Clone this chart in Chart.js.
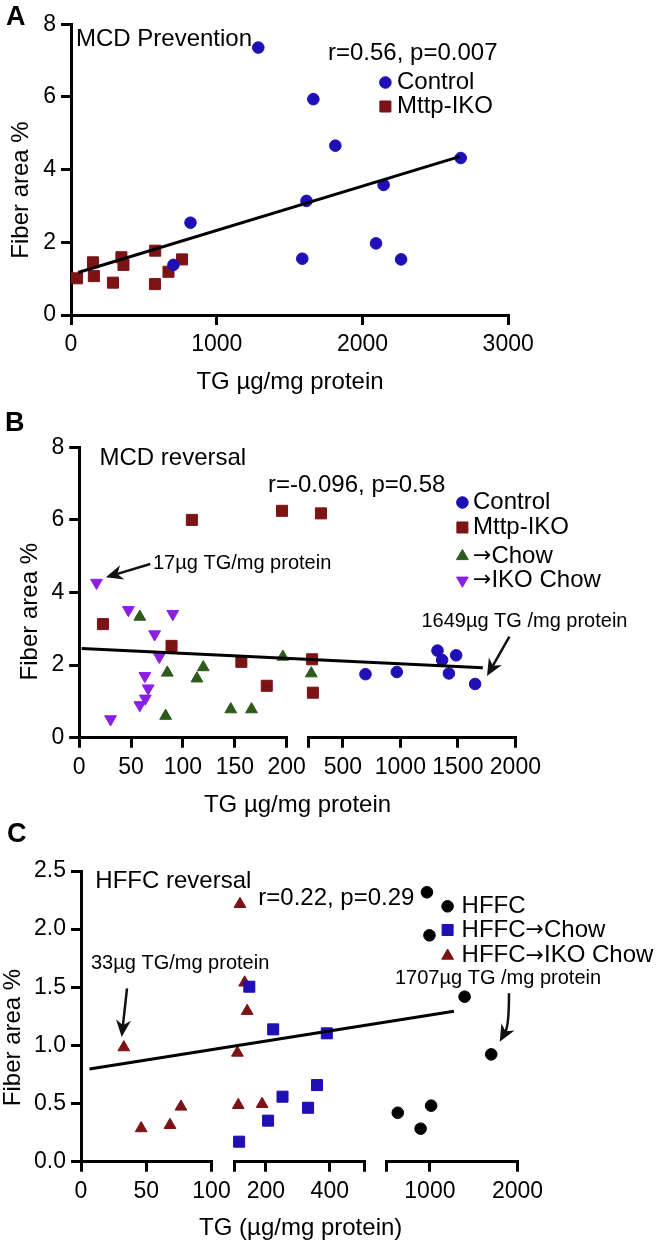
<!DOCTYPE html>
<html>
<head>
<meta charset="utf-8">
<script src="https://cdn.jsdelivr.net/npm/chart.js@4.4.1/dist/chart.umd.min.js"></script>
<style>
  html, body { margin: 0; padding: 0; background: #fff; }
  .panel { position: absolute; left: 0; width: 664px; }
  canvas { display: block; }
</style>
</head>
<body>
<div class="panel" style="top:0;height:395px"><canvas id="chartA" width="664" height="395"></canvas></div>
<div class="panel" style="top:395px;height:425px"><canvas id="chartB" width="664" height="425"></canvas></div>
<div class="panel" style="top:820px;height:426px"><canvas id="chartC" width="664" height="426"></canvas></div>
<script>
// ---------- Panel A: MCD prevention ----------
const aControlTG  = [1285, 1663, 1814, 2674, 2145, 1616, 820, 2093, 1587, 2265, 703];
const aControlFib = [7.36, 5.94, 4.66, 4.32, 3.58, 3.14, 2.54, 1.97, 1.55, 1.53, 1.38];
const aIkoTG      = [41, 151, 157, 288, 346, 360, 578, 576, 669, 762];
const aIkoFib     = [1.01, 1.45, 1.07, 0.89, 1.59, 1.38, 1.77, 0.85, 1.19, 1.53];
const aTrendTG    = [49, 2666];
const aTrendFib   = [1.17, 4.36];
const aXTicks     = [0, 1000, 2000, 3000];
const aXLabels    = ['0', '1000', '2000', '3000'];
const aYTicks     = [0, 2, 4, 6, 8];
const aYLabels    = ['0', '2', '4', '6', '8'];

// ---------- Panel B: MCD reversal ----------
const bControlTG  = [697, 969, 1323, 1363, 1485, 1422, 1650];
const bControlFib = [1.75, 1.81, 2.40, 2.14, 2.27, 1.77, 1.48];
const bIkoTG      = [108.6, 195.5, 22.9, 89, 156.3, 180.8, 310, 233, 240];
const bIkoFib     = [6.0, 6.25, 3.13, 2.53, 2.09, 1.43, 6.18, 2.16, 1.24];
const bChowTG     = [58.4, 84.9, 83.3, 113.5, 119.6, 146.1, 166.1, 196.3, 226];
const bChowFib    = [3.33, 1.79, 0.60, 1.63, 1.94, 0.78, 0.78, 2.23, 1.77];
const bIkoChowTG  = [16.7, 47.4, 90.2, 72.7, 77.2, 63.3, 66.5, 63.7, 58.4, 30.2];
const bIkoChowFib = [4.27, 3.52, 3.41, 2.85, 2.23, 1.70, 1.36, 1.08, 0.90, 0.51];
const bTrendTG    = [2.4, 1717];
const bTrendFib   = [2.46, 1.93];
const bSeg1Ticks  = [0, 50, 100, 150, 200];
const bSeg1Labels = ['0', '50', '100', '150', '200'];
const bSeg2Ticks  = [200, 500, 1000, 1500, 2000];
const bSeg2Labels = ['', '500', '1000', '1500', '2000'];
const bYTicks     = [0, 2, 4, 6, 8];
const bYLabels    = ['0', '2', '4', '6', '8'];

// ---------- Panel C: HFFC reversal ----------
const cHffcTG      = [966, 995, 1396, 1700, 633, 894, 1014];
const cHffcFib     = [2.317, 1.947, 1.419, 0.923, 0.421, 0.284, 0.482];
const cChowTG      = [148, 222.7, 390.7, 360, 252, 332, 206.7, 116];
const cChowFib     = [1.505, 1.138, 1.104, 0.659, 0.559, 0.464, 0.353, 0.172];
const cIkoChowTG   = [32.8, 46.1, 68.2, 76.6, 118.7, 133.3, 141.3, 110.7, 113.3, 188];
const cIkoChowFib  = [0.983, 0.287, 0.315, 0.473, 2.216, 1.540, 1.296, 0.937, 0.487, 0.496];
const cTrendTG     = [6.5, 1275];
const cTrendFib    = [0.797, 1.293];
const cSeg1Ticks   = [0, 50, 100];
const cSeg1Labels  = ['0', '50', '100'];
const cSeg2Ticks   = [100, 200, 400, 510];
const cSeg2Labels  = ['', '200', '400', ''];
const cSeg3Ticks   = [500, 1000, 2000];
const cSeg3Labels  = ['', '1000', '2000'];
const cYTicks      = [0, 0.5, 1.0, 1.5, 2.0, 2.5];
const cYLabels     = ['0.0', '0.5', '1.0', '1.5', '2.0', '2.5'];

// ---------- styling ----------
const FONT = '"Liberation Sans", Arial, Helvetica, sans-serif';
const ARROW_FONT = '"DejaVu Sans", sans-serif';
const BLUE = '#1e0fb6', RED = '#7c1315', GREEN = '#2c5b1c', PURPLE = '#8c1fe6', BLACK = '#000000';
const AXIS_W = 3, TICK_LEN = 10;

function drawMarker(ctx, m, x, y) {
  ctx.save();
  ctx.fillStyle = m.color; ctx.strokeStyle = m.color; ctx.lineWidth = 1;
  ctx.beginPath();
  if (m.style === 'circle') {
    ctx.arc(x, y, m.radius, 0, Math.PI * 2);
  } else if (m.style === 'rect') {
    const s = m.radius * Math.SQRT1_2;
    ctx.rect(x - s, y - s, 2 * s, 2 * s);
  } else {
    let a = (m.rotation || 0) * Math.PI / 180;
    for (let k = 0; k < 3; k++) {
      const px = x + Math.sin(a) * m.radius, py = y - Math.cos(a) * m.radius;
      if (k) ctx.lineTo(px, py); else ctx.moveTo(px, py);
      a += 2 * Math.PI / 3;
    }
    ctx.closePath();
  }
  ctx.fill(); ctx.stroke();
  ctx.restore();
}

function drawArrow(ctx, pts) {
  const tip = pts[pts.length - 1], prev = pts[pts.length - 2];
  const ang = Math.atan2(tip[1] - prev[1], tip[0] - prev[0]);
  const L = 17, HW = 7.5;
  const c = Math.cos(ang), s = Math.sin(ang);
  const notch = [tip[0] - c * L * 0.7, tip[1] - s * L * 0.7];
  ctx.save();
  ctx.strokeStyle = '#111'; ctx.fillStyle = '#111'; ctx.lineWidth = 2.5;
  ctx.beginPath();
  ctx.moveTo(pts[0][0], pts[0][1]);
  if (pts.length === 3) ctx.quadraticCurveTo(pts[1][0], pts[1][1], notch[0], notch[1]);
  else ctx.lineTo(notch[0], notch[1]);
  ctx.stroke();
  ctx.beginPath();
  ctx.moveTo(tip[0], tip[1]);
  ctx.lineTo(tip[0] - c * L - s * HW, tip[1] - s * L + c * HW);
  ctx.lineTo(notch[0], notch[1]);
  ctx.lineTo(tip[0] - c * L + s * HW, tip[1] - s * L - c * HW);
  ctx.closePath();
  ctx.fill();
  ctx.restore();
}

function text(ctx, str, x, y, size, opt) {
  opt = opt || {};
  ctx.save();
  ctx.fillStyle = '#000';
  ctx.font = (opt.bold ? 'bold ' : '') + size + 'px ' + FONT;
  ctx.textBaseline = 'middle';
  ctx.textAlign = opt.align || 'left';
  ctx.translate(x, y);
  if (opt.rotate) ctx.rotate(opt.rotate);
  ctx.fillText(str, 0, 0);
  ctx.restore();
}

// legend label: the arrow sign comes from DejaVu, which draws it full width
function legendText(ctx, str, x, y, size) {
  ctx.save();
  ctx.fillStyle = '#000';
  ctx.textBaseline = 'middle';
  ctx.textAlign = 'left';
  const parts = str.split('\u2192');
  let cx = x;
  parts.forEach((part, i) => {
    if (i > 0) {
      ctx.font = Math.round(size * 0.92) + 'px ' + ARROW_FONT;
      ctx.fillText('\u2192', cx, y);
      cx += ctx.measureText('\u2192').width;
    }
    ctx.font = size + 'px ' + FONT;
    ctx.fillText(part, cx, y);
    cx += ctx.measureText(part).width;
  });
  ctx.restore();
}

function segOf(segs, v) {
  for (let i = 0; i < segs.length; i++) if (v >= segs[i].min && v <= segs[i].max) return i;
  return segs.length - 1;
}

function makePanel(id, p) {
  const H = document.getElementById(id).height;
  const scales = {
    y: {
      type: 'linear', min: 0, max: p.yTicks[p.yTicks.length - 1],
      afterBuildTicks: ax => { ax.ticks = p.yTicks.map(v => ({ value: v })); },
      afterFit: ax => { ax.width = p.area.left; },
      ticks: { callback: (v, i) => p.yLabels[i], font: { family: FONT, size: 23 }, color: '#000', padding: 5 },
      grid: { drawOnChartArea: false, tickLength: TICK_LEN, color: '#000', lineWidth: AXIS_W },
      border: { color: '#000', width: AXIS_W }
    }
  };
  p.segs.forEach((sg, i) => {
    scales['x' + i] = {
      type: 'linear', position: 'bottom', stack: 'tg', stackWeight: sg.width, weight: 2 * i,
      min: sg.min, max: sg.max,
      afterBuildTicks: ax => { ax.ticks = sg.ticks.map(v => ({ value: v })); },
      afterFit: ax => { ax.height = H - p.area.bottom; },
      ticks: { callback: (v, k) => sg.labels[k], font: { family: FONT, size: 23 }, color: '#000',
               padding: 6, autoSkip: false, maxRotation: 0, minRotation: 0 },
      grid: { drawOnChartArea: false, tickLength: TICK_LEN, color: '#000', lineWidth: AXIS_W },
      border: { color: '#000', width: AXIS_W }
    };
    if (i < p.segs.length - 1) {
      scales['gap' + i] = {
        type: 'linear', position: 'bottom', stack: 'tg', stackWeight: p.gaps[i], weight: 2 * i + 1,
        min: 0, max: 1,
        afterFit: ax => { ax.height = H - p.area.bottom; },
        ticks: { display: false }, grid: { display: false }, border: { display: false }
      };
    }
  });

  const datasets = [];
  p.series.forEach(s => {
    p.segs.forEach((sg, i) => {
      const pts = [];
      s.xs.forEach((x, k) => { if (segOf(p.segs, x) === i) pts.push({ x: x, y: s.ys[k] }); });
      if (!pts.length) return;
      datasets.push({
        label: s.label, data: pts, xAxisID: 'x' + i, yAxisID: 'y', clip: false,
        pointStyle: s.style, pointRadius: s.radius, pointRotation: s.rotation || 0,
        backgroundColor: s.color, borderColor: s.color, pointBorderWidth: 1
      });
    });
  });

  const o = p.overlay;
  const overlay = {
    id: 'overlay' + id,
    afterDatasetsDraw(chart) {
      const ctx = chart.ctx;
      // regression line through the segmented scales
      const px = p.trend.xs.map(x => chart.scales['x' + segOf(p.segs, x)].getPixelForValue(x));
      const py = p.trend.ys.map(y => chart.scales.y.getPixelForValue(y));
      ctx.save();
      ctx.strokeStyle = '#000'; ctx.lineWidth = 3;
      ctx.beginPath(); ctx.moveTo(px[0], py[0]); ctx.lineTo(px[1], py[1]); ctx.stroke();
      ctx.restore();
      // panel letter, titles, notes
      text(ctx, o.letter[0], o.letter[1], o.letter[2], 27, { bold: true });
      text(ctx, o.yTitle[0], o.yTitle[1], o.yTitle[2], 24, { align: 'center', rotate: -Math.PI / 2 });
      text(ctx, o.xTitle[0], o.xTitle[1], o.xTitle[2], 24, { align: 'center' });
      o.notes.forEach(n => text(ctx, n[0], n[1], n[2], n[3]));
      o.arrows.forEach(a => drawArrow(ctx, a));
      // legend
      p.series.forEach((s, k) => {
        const y = o.legend.rows[k];
        drawMarker(ctx, s, o.legend.markerX, y);
        legendText(ctx, s.label, o.legend.textX, y, 24);
      });
    }
  };

  return new Chart(document.getElementById(id), {
    type: 'scatter',
    data: { datasets: datasets },
    options: {
      responsive: false, animation: false, events: [],
      layout: { padding: { left: 0, top: p.area.top, right: 664 - p.area.right, bottom: 0 } },
      scales: scales,
      plugins: { legend: { display: false }, tooltip: { enabled: false } }
    },
    plugins: [overlay]
  });
}

const CIRCLE_R = 5.8, RECT_R = 7.8, TRI_R = 6.8;

makePanel('chartA', {
  area: { left: 71, top: 24.3, right: 508.2, bottom: 315 },
  segs: [{ min: 0, max: 3000, ticks: aXTicks, labels: aXLabels, width: 1 }],
  gaps: [],
  yTicks: aYTicks, yLabels: aYLabels,
  series: [
    { label: 'Control', xs: aControlTG, ys: aControlFib, style: 'circle', radius: CIRCLE_R, color: BLUE },
    { label: 'Mttp-IKO', xs: aIkoTG, ys: aIkoFib, style: 'rect', radius: RECT_R, color: RED }
  ],
  trend: { xs: aTrendTG, ys: aTrendFib },
  overlay: {
    letter: ['A', 6, 18],
    yTitle: ['Fiber area %', 21, 190],
    xTitle: ['TG \u00b5g/mg protein', 290, 382],
    notes: [['MCD Prevention', 76, 39, 24], ['r=0.56, p=0.007', 328, 53, 24]],
    arrows: [],
    legend: { markerX: 385.4, textX: 397, rows: [82.5, 106.5] }
  }
});

makePanel('chartB', {
  area: { left: 79.2, top: 52.3, right: 515.4, bottom: 342.7 },
  segs: [
    { min: 0, max: 200, ticks: bSeg1Ticks, labels: bSeg1Labels, width: 207.5 },
    { min: 200, max: 2000, ticks: bSeg2Ticks, labels: bSeg2Labels, width: 207.1 }
  ],
  gaps: [21.6],
  yTicks: bYTicks, yLabels: bYLabels,
  series: [
    { label: 'Control', xs: bControlTG, ys: bControlFib, style: 'circle', radius: CIRCLE_R, color: BLUE },
    { label: 'Mttp-IKO', xs: bIkoTG, ys: bIkoFib, style: 'rect', radius: RECT_R, color: RED },
    { label: '\u2192Chow', xs: bChowTG, ys: bChowFib, style: 'triangle', radius: TRI_R, color: GREEN },
    { label: '\u2192IKO Chow', xs: bIkoChowTG, ys: bIkoChowFib, style: 'triangle', radius: TRI_R, rotation: 180, color: PURPLE }
  ],
  trend: { xs: bTrendTG, ys: bTrendFib },
  overlay: {
    letter: ['B', 5, 29],
    yTitle: ['Fiber area %', 30.5, 216.7],
    xTitle: ['TG \u00b5g/mg protein', 297.5, 410],
    notes: [
      ['MCD reversal', 99.5, 63.3, 24],
      ['r=-0.096, p=0.58', 268, 90, 24],
      ['17\u00b5g TG/mg protein', 153, 168.3, 20],
      ['1649\u00b5g TG /mg protein', 421.4, 226.7, 20]
    ],
    arrows: [
      [[150.3, 169], [105.9, 182.3]],
      [[509.4, 241.7], [487, 281]]
    ],
    legend: { markerX: 462.4, textX: 473, rows: [107.5, 132.5, 161.2, 185.5] }
  }
});

makePanel('chartC', {
  area: { left: 81, top: 51, right: 517.5, bottom: 341.7 },
  segs: [
    { min: 0, max: 100, ticks: cSeg1Ticks, labels: cSeg1Labels, width: 130.4 },
    { min: 100, max: 510, ticks: cSeg2Ticks, labels: cSeg2Labels, width: 130.8 },
    { min: 500, max: 2000, ticks: cSeg3Ticks, labels: cSeg3Labels, width: 131.3 }
  ],
  gaps: [22.5, 21.2],
  yTicks: cYTicks, yLabels: cYLabels,
  series: [
    { label: 'HFFC', xs: cHffcTG, ys: cHffcFib, style: 'circle', radius: CIRCLE_R, color: BLACK },
    { label: 'HFFC\u2192Chow', xs: cChowTG, ys: cChowFib, style: 'rect', radius: RECT_R, color: BLUE },
    { label: 'HFFC\u2192IKO Chow', xs: cIkoChowTG, ys: cIkoChowFib, style: 'triangle', radius: TRI_R, color: RED }
  ],
  trend: { xs: cTrendTG, ys: cTrendFib },
  overlay: {
    letter: ['C', 7, 15],
    yTitle: ['Fiber area %', 13.5, 217.5],
    xTitle: ['TG (\u00b5g/mg protein)', 300.7, 408.3],
    notes: [
      ['HFFC reversal', 95.3, 61.7, 24],
      ['r=0.22, p=0.29', 258.3, 78.3, 24],
      ['33\u00b5g TG/mg protein', 91, 143.3, 20],
      ['1707\u00b5g TG /mg protein', 395, 158.3, 20]
    ],
    arrows: [
      [[127, 168.3], [124, 195], [121.7, 217]],
      [[509, 173.3], [509, 205], [499.7, 221.7]]
    ],
    legend: { markerX: 447.6, textX: 461.6, rows: [86.3, 110, 135.8] }
  }
});
</script>
</body>
</html>
